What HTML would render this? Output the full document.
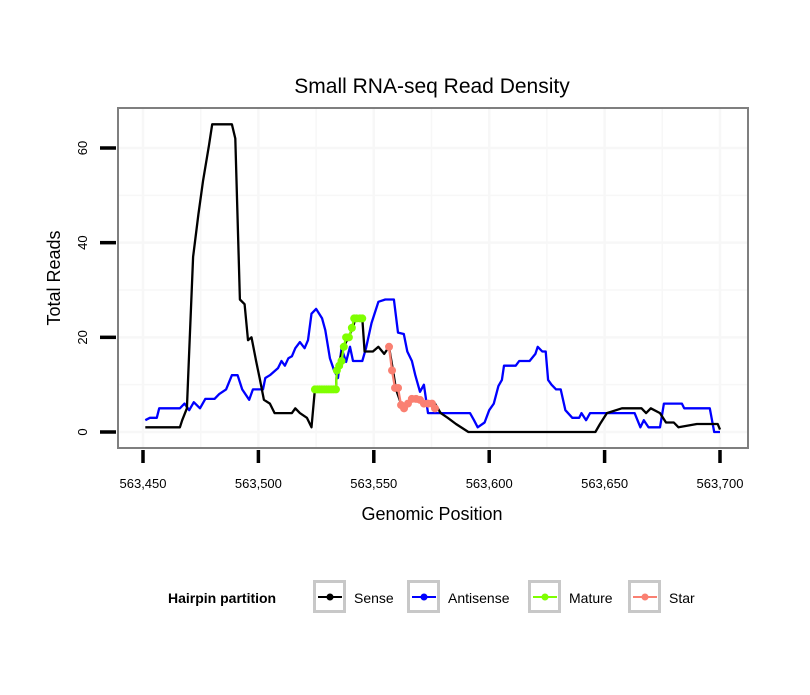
<!DOCTYPE html>
<html><head><meta charset="utf-8"><style>
body{margin:0;background:#fff;}
svg text{font-family:"Liberation Sans",sans-serif;}
</style></head><body>
<svg id="chart" width="810" height="690" xmlns="http://www.w3.org/2000/svg">
<rect width="810" height="690" fill="#fff"/>
<text x="432" y="93" font-size="21" text-anchor="middle">Small RNA-seq Read Density</text>
<g id="grid"></g>
<g id="series"></g>
<rect x="118" y="108" width="630" height="340" fill="none" stroke="#7f7f7f" stroke-width="2"/>
<g id="axes"></g>
<text x="432" y="520" font-size="18" text-anchor="middle">Genomic Position</text>
<text transform="translate(60,278) rotate(-90)" font-size="18" text-anchor="middle">Total Reads</text>
<g>
<text x="168" y="603" font-size="14" font-weight="bold">Hairpin partition</text>
<g id="legend-items"></g>
</g>
</svg>
<script>
const xTicks=[563450,563500,563550,563600,563650,563700];
const xTickLabels=["563,450","563,500","563,550","563,600","563,650","563,700"];
const yTicks=[0,20,40,60];
const yTickLabels=["0","20","40","60"];
const senseX=[563451,563466,563467,563469,563470,563471.7,563474,563476,563478.6,563480,563488.5,563490,563492,563494,563495.5,563497,563499,563500.7,563502.4,563505,563507,563514.5,563516,563518,563521,563523,563524.5,563533.6,563534,563535,563537,563539,563541,563542,563545,563546,563549.6,563552,563554.5,563556.6,563558.3,563559.6,563561.8,563563.5,563565.7,563570,563572,563576.5,563579,563582,563585.6,563591,563646,563648,563651,563657.5,563666,563668,563670,563674,563676.6,563680,563682,563690,563699,563700];
const senseY=[1,1,2.5,5,17,37,46,53,60.6,65,65,62,28,27,19.4,20,15,11,6.8,6,4,4,5,4,3,1,9,9,13,15,18,20,22,24,24,17,17,18,16.5,18,13,9,6,5,7,7,6,6,4,3,1.7,0,0,1.7,4,5,5,4,5,4,2,2,1,1.7,1.7,0.5];
const antiX=[563451,563453,563456,563457,563466,563468,563470,563472,563474.7,563477,563481,563483,563486,563488.5,563491,563493,563496,563497.6,563502,563503,563505,563508.5,563510,563511.5,563513,563514.5,563516,563518,563520,563521.5,563523,563525,563527.6,563529,563531,563532.8,563534.5,563536,563538,563539.7,563541,563545,563546.6,563549,563552,563555,563558.7,563560.5,563563,563564.5,563566.5,563568,563570,563571.7,563573.5,563591.7,563593.4,563595,563598,563600,563602,563604,563605.5,563606.4,563611.5,563613,563617.5,563620,563621,563623,563624.5,563625.5,563627,563629,563631,563633,563636,563639,563640,563642,563643.7,563663,563665.5,563667,563669,563674,563675.7,563683.5,563684.5,563695.6,563697.5,563700];
const antiY=[2.5,3,3,5,5,6,4.6,6.3,5,7,7,8,9,12,12,9,6.8,9,9,11.4,12,13.5,15,14,15.6,16,17.7,19,17.7,19.4,25,26,24,21.5,15.6,13,11.4,17.7,14.8,18,15,15,17.7,23,27.5,28,28,21,20.7,17,15,12,8.5,10,4,4,2.5,1,2,4.6,6,9.7,11,14,14,15,15,16.5,18,17,17,11,10,9,9,4.6,3,3,4,2.5,4,4,1,2.5,1,1,6,6,5,5,0,0];
const matureX=[563524.5,563525.5,563526.5,563527.5,563528.5,563529.5,563530.5,563531.5,563532.5,563533.6,563534,563535,563536,563537,563538,563539.2,563540.5,563541.5,563542.5,563544,563545];
const matureY=[9,9,9,9,9,9,9,9,9,9,13,14,15,18,20,20,22,24,24,24,24];
const starX=[563556.6,563557.9,563559.2,563560.5,563561.8,563563.1,563564.8,563566.5,563568.3,563570,563571.7,563573.5,563575.2,563576.5];
const starY=[18,13,9.3,9.3,5.7,5,6,7,7,6.8,6,6,6,5];
const seriesNames=["Sense","Antisense","Mature","Star"];
const seriesColors=["#000000","#0000ff","#7fff00","#fa8072"];

const NS="http://www.w3.org/2000/svg";
function X(v){return 143+(v-563450)*577/250;}
function Y(v){return 432-v*284/60;}
function mk(tag,attrs,parent){const e=document.createElementNS(NS,tag);for(const k in attrs)e.setAttribute(k,attrs[k]);parent.appendChild(e);return e;}
const grid=document.getElementById('grid'),axes=document.getElementById('axes'),ser=document.getElementById('series');
for(let v=563425;v<=563725;v+=25){const px=X(v);if(px<119||px>747)continue;
 const g=mk('line',{x1:px,x2:px,y1:109,y2:447,stroke:'#f7f7f7','stroke-width':(v%50===0)?2.5:1.5},grid);
 }
for(let v=-10;v<=70;v+=10){const py=Y(v);if(py<109||py>447)continue;
 const g=mk('line',{x1:119,x2:747,y1:py,y2:py,stroke:'#f7f7f7','stroke-width':(v%20===0)?2.5:1.5},grid);
 }
xTicks.forEach((v,i)=>{const px=X(v);
 const t=mk('line',{x1:px,x2:px,y1:450,y2:463,stroke:'#000','stroke-width':3.5},axes);
 
 const l=mk('text',{x:px,y:488,'font-size':13,'text-anchor':'middle'},axes);l.textContent=xTickLabels[i];
 });
yTicks.forEach((v,i)=>{const py=Y(v);
 const t=mk('line',{x1:100,x2:116,y1:py,y2:py,stroke:'#000','stroke-width':3.5},axes);
 
 const l=mk('text',{transform:`translate(87,${py}) rotate(-90)`,'font-size':13,'text-anchor':'middle'},axes);l.textContent=yTickLabels[i];
 });
function line(xs,ys,color,name){const d=xs.map((x,i)=>(i?'L':'M')+X(x).toFixed(1)+' '+Y(ys[i]).toFixed(1)).join('');
 const p=mk('path',{d:d,fill:'none',stroke:color,'stroke-width':2.3,'stroke-linejoin':'round'},ser);
 }
function pts(xs,ys,color,name){line(xs,ys,color,name+'-line');xs.forEach((x,i)=>{
 const c=mk('circle',{cx:X(x),cy:Y(ys[i]),r:4,fill:color},ser);
 });}
line(antiX,antiY,seriesColors[1],'antisense-line');
line(senseX,senseY,seriesColors[0],'sense-line');
pts(matureX,matureY,seriesColors[2],'mature');
pts(starX,starY,seriesColors[3],'star');
const li=document.getElementById('legend-items');
const boxX=[313,407,528,628];
seriesNames.forEach((n,i)=>{const bx=boxX[i];
 const b=mk('rect',{x:bx+1.5,y:581.5,width:30,height:30,fill:'#fff',stroke:'#c8c8c8','stroke-width':3},li);
 
 const l=mk('line',{x1:bx+5,x2:bx+29,y1:597,y2:597,stroke:seriesColors[i],'stroke-width':2},li);
 
 const c=mk('circle',{cx:bx+17,cy:597,r:3.5,fill:seriesColors[i]},li);
 
 const t=mk('text',{x:bx+41,y:603,'font-size':14},li);t.textContent=n;
 });
</script>
</body></html>
